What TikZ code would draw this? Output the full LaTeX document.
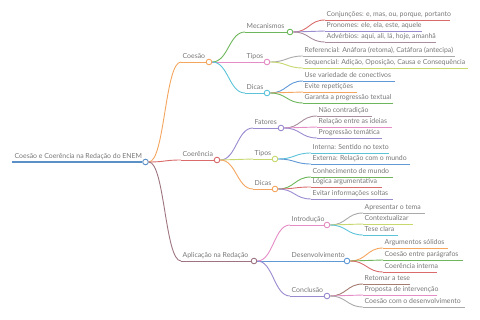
\documentclass[tikz,border=0pt]{standalone}
\usepackage{fontspec}
\setmainfont{Lato}
\definecolor{cRoot}{HTML}{5B8FC7}
\definecolor{cOr}{HTML}{F4A55E}
\definecolor{cRed}{HTML}{D96B6B}
\definecolor{cMauve}{HTML}{9E7480}
\definecolor{cGreen}{HTML}{6DB65B}
\definecolor{cPink}{HTML}{E48CC4}
\definecolor{cCyan}{HTML}{5CC3D9}
\definecolor{cPurple}{HTML}{9A8AD0}
\definecolor{cGP}{HTML}{A88E9E}
\definecolor{cGrey}{HTML}{AAAAAA}
\definecolor{cYG}{HTML}{C6D86E}
\definecolor{cBlue}{HTML}{6199D6}
\definecolor{cBrown}{HTML}{A57D70}
\definecolor{cTxt}{HTML}{777777}
\tikzset{
  br/.style={line width=0.9pt},
  txt/.style={inner sep=0pt, font=\fontsize{6.9}{7}\selectfont, text=cTxt},
  circ/.style={circle, fill=white, line width=0.9pt, inner sep=0pt, minimum size=5.6pt}
}
\newcommand\mmline[6]{%
  \coordinate (#1s) at (#3,#5);
  \coordinate (#1e) at (#4,#5);
  \draw[br,#2] (#1s) -- (#1e);
  \node[txt,anchor=base west] (#1) at ([xshift=1.5pt,yshift=3pt]#1s) {#6};
}
\newcommand\mmcirc[2]{\node[circ,draw=#2] (#1c) at ([xshift=3pt]#1e) {};}
\newcommand\mmedge[3]{\draw[br,#3] (#1c.east) .. controls +(16,0) and +(-16,0) .. (#2s);}
\begin{document}
\begin{tikzpicture}[x=1pt,y=-1pt]
\useasboundingbox (0,0) rectangle (480,320);
% root
\coordinate (roots) at (12,162);
\coordinate (roote) at (142,162);
\draw[cRoot,line width=1.8pt] (roots) -- (roote);
\node[txt,anchor=base west] (root) at ([xshift=2.5pt,yshift=3.6pt]roots) {Coesão e Coerência na Redação do ENEM};
% level 1
\mmline{a}{cOr}{181}{206}{62}{Coesão}
\mmline{b}{cRed}{181}{214}{160}{Coerência}
\mmline{c}{cMauve}{181}{251}{261}{Aplicação na Redação}
% Coesão children
\mmline{a1}{cGreen}{245}{287}{32}{Mecanismos}
\mmline{a2}{cPink}{245}{264}{62}{Tipos}
\mmline{a3}{cCyan}{245}{264}{93}{Dicas}
\mmline{a11}{cRed}{325}{450}{20}{Conjunções: e, mas, ou, porque, portanto}
\mmline{a12}{cPurple}{325}{422}{31}{Pronomes: ele, ela, este, aquele}
\mmline{a13}{cGP}{325}{436}{42}{Advérbios: aqui, ali, lá, hoje, amanhã}
\mmline{a21}{cGrey}{303}{455}{56}{Referencial: Anáfora (retoma), Catáfora (antecipa)}
\mmline{a22}{cYG}{303}{468}{68}{Sequencial: Adição, Oposição, Causa e Consequência}
\mmline{a31}{cBlue}{303}{395}{81}{Use variedade de conectivos}
\mmline{a32}{cOr}{303}{357}{92}{Evite repetições}
\mmline{a33}{cGreen}{303}{393}{103}{Garanta a progressão textual}
% Coerência children
\mmline{b1}{cPurple}{253}{278}{128}{Fatores}
\mmline{b2}{cYG}{253}{272}{159}{Tipos}
\mmline{b3}{cOr}{253}{272}{189}{Dicas}
\mmline{b11}{cGP}{317}{372}{116}{Não contradição}
\mmline{b12}{cPink}{317}{392}{127}{Relação entre as ideias}
\mmline{b13}{cPurple}{317}{382}{138}{Progressão temática}
\mmline{b21}{cCyan}{311}{389}{153}{Interna: Sentido no texto}
\mmline{b22}{cBlue}{311}{410}{164}{Externa: Relação com o mundo}
\mmline{b31}{cGreen}{311}{393}{177}{Conhecimento de mundo}
\mmline{b32}{cRed}{311}{382}{187}{Lógica argumentativa}
\mmline{b33}{cPurple}{311}{393}{199}{Evitar informações soltas}
% Aplicação children
\mmline{c1}{cPink}{290}{324}{225}{Introdução}
\mmline{c2}{cBlue}{290}{344}{261}{Desenvolvimento}
\mmline{c3}{cPurple}{290}{324}{296}{Conclusão}
\mmline{c11}{cGrey}{363}{425}{213}{Apresentar o tema}
\mmline{c12}{cYG}{363}{413}{224}{Contextualizar}
\mmline{c13}{cCyan}{363}{398}{235}{Tese clara}
\mmline{c21}{cOr}{383}{448}{248}{Argumentos sólidos}
\mmline{c22}{cGreen}{383}{463}{260}{Coesão entre parágrafos}
\mmline{c23}{cRed}{383}{437}{272}{Coerência interna}
\mmline{c31}{cBrown}{363}{410}{284}{Retomar a tese}
\mmline{c32}{cPink}{363}{437}{295}{Proposta de intervenção}
\mmline{c33}{cGrey}{363}{465}{307}{Coesão com o desenvolvimento}
% circles
\node[circ,draw=cRoot] (rootc) at ([xshift=3.5pt]roote) {};
\mmcirc{a}{cOr}\mmcirc{b}{cRed}\mmcirc{c}{cMauve}
\mmcirc{a1}{cGreen}\mmcirc{a2}{cPink}\mmcirc{a3}{cCyan}
\mmcirc{b1}{cPurple}\mmcirc{b2}{cYG}\mmcirc{b3}{cOr}
\mmcirc{c1}{cPink}\mmcirc{c2}{cBlue}\mmcirc{c3}{cPurple}
% edges
\mmedge{root}{a}{cOr}\mmedge{root}{b}{cRed}\mmedge{root}{c}{cMauve}
\mmedge{a}{a1}{cGreen}\mmedge{a}{a2}{cPink}\mmedge{a}{a3}{cCyan}
\mmedge{b}{b1}{cPurple}\mmedge{b}{b2}{cYG}\mmedge{b}{b3}{cOr}
\mmedge{c}{c1}{cPink}\mmedge{c}{c2}{cBlue}\mmedge{c}{c3}{cPurple}
\mmedge{a1}{a11}{cRed}\mmedge{a1}{a12}{cPurple}\mmedge{a1}{a13}{cGP}
\mmedge{a2}{a21}{cGrey}\mmedge{a2}{a22}{cYG}
\mmedge{a3}{a31}{cBlue}\mmedge{a3}{a32}{cOr}\mmedge{a3}{a33}{cGreen}
\mmedge{b1}{b11}{cGP}\mmedge{b1}{b12}{cPink}\mmedge{b1}{b13}{cPurple}
\mmedge{b2}{b21}{cCyan}\mmedge{b2}{b22}{cBlue}
\mmedge{b3}{b31}{cGreen}\mmedge{b3}{b32}{cRed}\mmedge{b3}{b33}{cPurple}
\mmedge{c1}{c11}{cGrey}\mmedge{c1}{c12}{cYG}\mmedge{c1}{c13}{cCyan}
\mmedge{c2}{c21}{cOr}\mmedge{c2}{c22}{cGreen}\mmedge{c2}{c23}{cRed}
\mmedge{c3}{c31}{cBrown}\mmedge{c3}{c32}{cPink}\mmedge{c3}{c33}{cGrey}
\end{tikzpicture}
\end{document}
